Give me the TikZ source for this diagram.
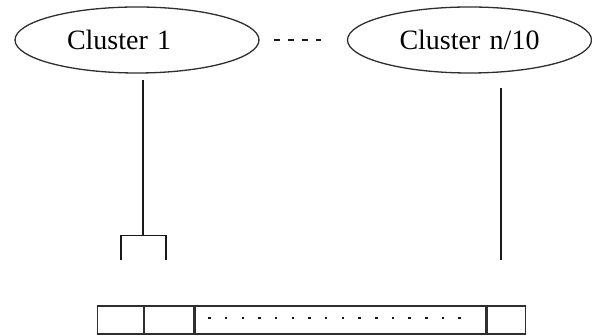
\documentclass[tikz,border=0pt]{standalone}
\usepackage{fontspec}
\setmainfont{Liberation Serif}
\usetikzlibrary{shapes.geometric,calc,positioning}
\definecolor{ShapeClr}{rgb}{0.18,0.18,0.18}
\definecolor{LineClr}{rgb}{0.1,0.1,0.1}

\begin{document}
\begin{tikzpicture}[x=1pt,y=1pt,
  cluster/.style={ellipse,draw=ShapeClr,line width=1.3pt,minimum width=244pt,
    minimum height=66pt,inner sep=0pt,text width=140pt,align=left,
    font=\fontsize{28}{30}\selectfont},
  cell/.style={draw=ShapeClr,line width=1.2pt,minimum height=28pt,inner sep=0pt,anchor=west},
  wire/.style={line width=1.1pt,color=LineClr}]
\useasboundingbox (0,0) rectangle (592,336);

\node[cluster] (c1) at (137,296) {Cluster 1};
\node[cluster] (cn) at (469.5,296) {Cluster n/10};
\draw[wire,dash pattern=on 6pt off 8pt] ([xshift=14pt]c1.east) -- ([xshift=-25.5pt]cn.west);

% array of cells
\node[cell,minimum width=46pt] (r1) at (97,16) {};
\node[cell,minimum width=49pt] (r2) at (r1.east) {};
\node[cell,minimum width=291pt] (r3) at (r2.east) {};
\node[cell,minimum width=38pt] (r4) at (r3.east) {};
\foreach \i in {0,...,15}
  \fill[LineClr] ($(r3.west)+(13.8+\i*16.67,0.5)$) rectangle +(2.6,2.6);

% links
\coordinate (a1) at ([xshift=6pt,yshift=-6pt]c1.south);
\coordinate (b1) at ($(a1)+(0,-156)$);
\coordinate (bl) at ($(b1)+(-22,0)$);
\coordinate (br) at ($(b1)+(23,0)$);
\coordinate (el) at ($(bl)+(0,-24)$);
\coordinate (er) at ($(br)+(0,-24)$);
\draw[wire] (a1) -- (b1);
\draw[wire] (el) -- (bl) -- (br) -- (er);

\coordinate (an) at ([xshift=31.5pt,yshift=-14pt]cn.south);
\coordinate (en) at ($(an)+(0,-172)$);
\draw[wire] (an) -- (en);

\end{tikzpicture}
\end{document}
